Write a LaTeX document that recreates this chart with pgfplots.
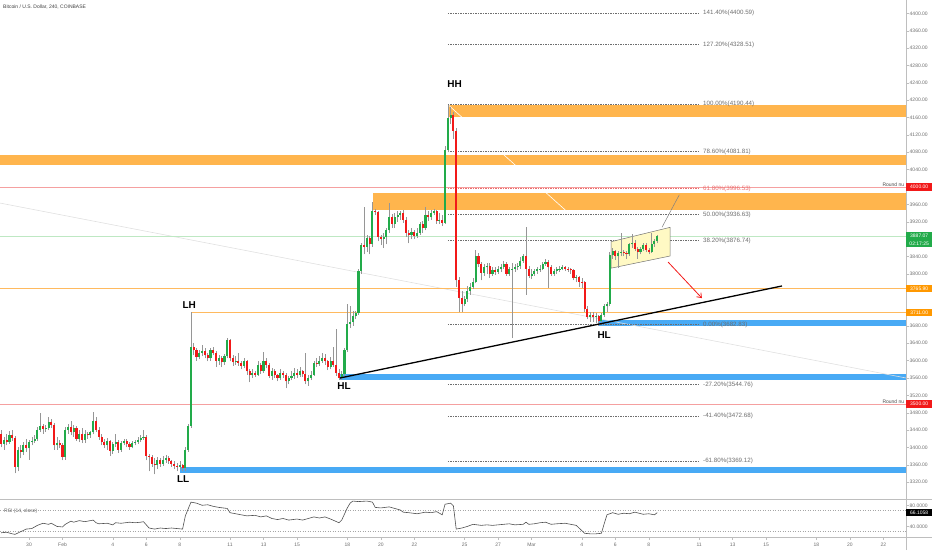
\documentclass[border=0pt]{standalone}
\usepackage{pgfplots}
\pgfplotsset{compat=1.18}
\usepackage{pgfplotstable}
\usepackage{fontspec}
\setmainfont{Liberation Sans}
\usetikzlibrary{arrows.meta}

\definecolor{tvgreen}{RGB}{34,171,74}
\definecolor{tvred}{RGB}{242,25,25}
\definecolor{wick}{RGB}{150,150,150}
\definecolor{zoneor}{RGB}{255,181,77}
\definecolor{lineor}{RGB}{255,186,95}
\definecolor{boxor}{RGB}{255,152,0}
\definecolor{zoneblue}{RGB}{72,170,245}
\definecolor{pinkline}{RGB}{245,160,160}
\definecolor{curgreen}{RGB}{190,232,195}
\definecolor{fibgray}{RGB}{110,110,110}
\definecolor{fibred}{RGB}{235,110,110}
\definecolor{ticktext}{RGB}{110,110,110}
\definecolor{axgray}{RGB}{190,190,190}
\definecolor{chanfill}{RGB}{255,249,196}
\definecolor{rsiline}{RGB}{80,80,80}

\newcommand\fs[1]{\fontsize{#1}{#1}\selectfont}

% 4h candles, bar 0 = 28 Jan 08:00
\pgfplotstableread{
i o h l c
0 3432 3440 3400 3408
1 3408 3425 3395 3418
2 3418 3430 3405 3412
3 3412 3438 3408 3428
4 3428 3440 3415 3422
5 3422 3426 3340 3355
6 3355 3400 3345 3395
7 3395 3405 3375 3390
8 3390 3412 3382 3405
9 3405 3420 3390 3398
10 3398 3418 3372 3412
11 3412 3425 3405 3415
12 3415 3428 3410 3420
13 3420 3448 3415 3440
14 3440 3480 3435 3450
15 3450 3455 3432 3442
16 3442 3452 3435 3445
17 3445 3470 3440 3458
18 3458 3465 3445 3452
19 3452 3456 3395 3405
20 3405 3425 3395 3410
21 3410 3418 3398 3406
22 3406 3410 3370 3378
23 3378 3448 3372 3440
24 3440 3455 3432 3448
25 3448 3462 3428 3435
26 3435 3452 3425 3445
27 3445 3450 3415 3420
28 3420 3440 3412 3430
29 3430 3445 3410 3418
30 3418 3440 3410 3432
31 3432 3436 3420 3428
32 3428 3438 3422 3435
33 3435 3482 3430 3462
34 3462 3470 3436 3440
35 3440 3446 3418 3425
36 3425 3430 3405 3412
37 3412 3420 3398 3405
38 3405 3422 3395 3415
39 3415 3418 3380 3392
40 3392 3412 3386 3408
41 3408 3430 3402 3412
42 3412 3418 3388 3395
43 3395 3415 3390 3410
44 3410 3420 3405 3415
45 3415 3420 3400 3408
46 3408 3412 3395 3402
47 3402 3415 3398 3410
48 3410 3418 3405 3412
49 3412 3425 3408 3418
50 3418 3428 3412 3422
51 3422 3440 3418 3425
52 3425 3428 3370 3380
53 3380 3385 3345 3378
54 3378 3382 3355 3362
55 3362 3375 3338 3360
56 3360 3378 3350 3370
57 3370 3376 3355 3362
58 3362 3380 3358 3372
59 3372 3382 3365 3375
60 3375 3380 3362 3368
61 3368 3372 3356 3362
62 3362 3368 3350 3358
63 3358 3365 3345 3355
64 3355 3368 3350 3360
65 3360 3362 3345 3352
66 3352 3400 3345 3395
67 3395 3455 3390 3450
68 3450 3712 3445 3632
69 3632 3640 3612 3625
70 3625 3630 3600 3608
71 3608 3625 3603 3618
72 3618 3636 3610 3622
73 3622 3630 3605 3612
74 3612 3618 3598 3605
75 3605 3630 3600 3625
76 3625 3632 3612 3618
77 3618 3622 3585 3600
78 3600 3612 3590 3605
79 3605 3610 3585 3596
80 3596 3615 3590 3610
81 3610 3652 3605 3648
82 3648 3650 3598 3605
83 3605 3612 3588 3596
84 3596 3610 3590 3600
85 3600 3618 3588 3595
86 3595 3600 3580 3588
87 3588 3606 3582 3600
88 3600 3602 3568 3575
89 3575 3580 3550 3566
90 3566 3580 3560 3572
91 3572 3576 3562 3568
92 3568 3600 3565 3590
93 3590 3594 3570 3575
94 3575 3620 3572 3598
95 3598 3605 3582 3590
96 3590 3595 3560 3565
97 3565 3582 3556 3575
98 3575 3580 3560 3566
99 3566 3570 3552 3560
100 3560 3580 3555 3572
101 3572 3576 3560 3568
102 3568 3572 3536 3552
103 3552 3565 3545 3560
104 3560 3575 3555 3565
105 3565 3582 3558 3572
106 3572 3580 3560 3568
107 3568 3585 3562 3575
108 3575 3578 3562 3570
109 3570 3618 3545 3552
110 3552 3568 3542 3560
111 3560 3575 3555 3568
112 3568 3600 3565 3595
113 3595 3605 3585 3592
114 3592 3610 3588 3600
115 3600 3618 3595 3605
116 3605 3615 3590 3598
117 3598 3602 3578 3585
118 3585 3608 3580 3600
119 3600 3632 3585 3590
120 3590 3672 3565 3572
121 3572 3580 3555 3560
122 3560 3575 3556 3570
123 3570 3630 3565 3625
124 3625 3730 3620 3685
125 3685 3725 3675 3690
126 3690 3715 3680 3702
127 3702 3715 3695 3710
128 3710 3812 3705 3806
129 3806 3872 3800 3866
130 3866 3955 3845 3862
131 3862 3890 3850 3882
132 3882 3888 3845 3868
133 3868 3965 3862 3945
134 3945 3950 3935 3942
135 3942 3945 3875 3885
136 3885 3890 3866 3880
137 3880 3895 3860 3885
138 3885 3905 3868 3900
139 3900 3962 3895 3932
140 3932 3938 3905 3915
141 3915 3940 3905 3930
142 3930 3945 3920 3935
143 3935 3945 3925 3940
144 3940 3948 3918 3925
145 3925 3930 3885 3895
146 3895 3900 3870 3890
147 3890 3905 3880 3896
148 3896 3900 3880 3888
149 3888 3905 3882 3895
150 3895 3920 3890 3915
151 3915 3922 3895 3905
152 3905 3954 3900 3935
153 3935 3945 3922 3930
154 3930 3948 3925 3940
155 3940 3950 3935 3945
156 3945 3948 3915 3922
157 3922 3940 3915 3925
158 3925 3935 3910 3918
159 3918 4095 3915 4085
160 4085 4190 4080 4158
161 4158 4185 4145 4165
162 4165 4172 4110 4130
163 4130 4135 3770 3785
164 3785 3792 3712 3745
165 3745 3760 3712 3730
166 3730 3750 3725 3742
167 3742 3772 3735 3760
168 3760 3778 3752 3770
169 3770 3790 3765 3782
170 3782 3855 3778 3842
171 3842 3848 3815 3822
172 3822 3828 3785 3802
173 3802 3822 3795 3815
174 3815 3825 3800 3818
175 3818 3824 3790 3800
176 3800 3815 3795 3808
177 3808 3815 3798 3805
178 3805 3818 3800 3810
179 3810 3822 3805 3815
180 3815 3830 3810 3822
181 3822 3828 3795 3800
182 3800 3815 3795 3810
183 3810 3825 3652 3812
184 3812 3822 3805 3815
185 3815 3825 3808 3818
186 3818 3838 3812 3830
187 3830 3845 3825 3840
188 3840 3908 3752 3812
189 3812 3818 3790 3795
190 3795 3810 3788 3800
191 3800 3812 3795 3806
192 3806 3815 3800 3810
193 3810 3820 3805 3812
194 3812 3828 3808 3822
195 3822 3835 3818 3828
196 3828 3832 3768 3815
197 3815 3820 3795 3800
198 3800 3812 3795 3806
199 3806 3815 3800 3810
200 3810 3818 3805 3812
201 3812 3820 3808 3815
202 3815 3818 3806 3812
203 3812 3816 3804 3810
204 3810 3814 3800 3808
205 3808 3812 3785 3790
206 3790 3798 3780 3792
207 3792 3796 3770 3782
208 3782 3790 3768 3780
209 3780 3784 3712 3718
210 3718 3725 3695 3700
211 3700 3712 3690 3705
212 3705 3712 3688 3700
213 3700 3710 3686 3702
214 3702 3706 3680 3692
215 3692 3710 3688 3705
216 3705 3730 3700 3725
217 3725 3735 3712 3730
218 3730 3850 3725 3843
219 3843 3860 3835 3852
220 3852 3856 3832 3840
221 3840 3852 3813 3848
222 3848 3894 3840 3850
223 3850 3855 3840 3848
224 3848 3852 3835 3845
225 3845 3872 3842 3868
226 3868 3892 3860 3872
227 3872 3878 3852 3858
228 3858 3862 3835 3850
229 3850 3862 3845 3858
230 3858 3872 3852 3866
231 3866 3870 3850 3856
232 3856 3860 3845 3850
233 3850 3894 3848 3868
234 3868 3880 3862 3875
235 3875 3890 3870 3887
}\candles

% RSI(14) read at bar positions
\pgfplotstableread{
i r
0 28
2 29
4 26
5 25
7 30
9 35
11 36
13 42
15 46
17 44
18 46
20 40
22 39
23 44
25 50
26 48
28 51
30 49
31 50
33 52
34 47
35 45
38 46
40 43
41 47
43 46
46 48
48 47
50 48
51 49
53 37
55 35
57 37
59 36
61 37
63 36
65 35
66 60
68 86
70 84
72 80
74 81
76 78
78 76
81 74
82 66
84 64
86 62
88 60
91 61
93 58
95 60
97 55
99 53
101 55
103 52
106 54
108 52
110 55
112 58
114 56
116 58
118 54
121 47
122 52
124 75
125 84
126 88
128 87
131 88
133 86
134 76
136 75
139 77
141 74
143 71
144 67
146 66
149 64
150 65
152 67
154 66
156 68
158 62
159 82
161 84
162 79
163 35
165 37
167 40
169 44
172 42
174 43
176 42
178 43
180 44
182 45
184 43
187 44
188 48
189 44
191 45
193 47
195 48
197 44
199 45
202 46
204 44
206 42
208 32
209 27
211 26
213 26
215 27
216 45
217 62
219 66
221 63
223 65
225 64
227 67
230 63
232 64
234 62
235 66
}\rsi

\newcommand\fib[3]{%
  \draw[#3, dash pattern=on 1.2pt off 1.3pt, line width=0.5pt] (axis cs:160,#1) -- (axis cs:249.6,#1);
  \node[anchor=west, font=\fs{6.2}, text=#3, inner sep=0pt] at (axis cs:251.4,#1) {#2};}

\begin{document}
\begin{tikzpicture}[x=1pt,y=1pt]
\useasboundingbox (0,0) rectangle (932,550);

\begin{axis}[
  at={(0pt,52pt)}, anchor=south west,
  scale only axis, width=906pt, height=498pt,
  xmin=-0.39, xmax=324.1, ymin=3283.5, ymax=4430.8,
  clip=false,
  axis x line*=bottom, axis y line*=right,
  axis line style={draw=none},
  xtick=\empty,
  ytick={3320,3360,3400,3440,3480,3520,3560,3600,3640,3680,3800,3840,3920,3960,4040,4080,4120,4160,4200,4240,4280,4320,4360,4400},
  tick align=outside, major tick length=2.5pt,
  ytick style={draw=axgray, line width=0.4pt},
  yticklabel style={font=\fs{5}, text=ticktext, inner sep=1pt},
  /pgf/number format/.cd, fixed, fixed zerofill, precision=2, 1000 sep={}, assume math mode=true
]
% zones
\fill[zoneor] (axis cs:-0.39,4051) rectangle (axis cs:324.1,4074);
\fill[zoneor] (axis cs:160,4161) rectangle (axis cs:324.1,4189);
\fill[zoneor] (axis cs:133.2,3947) rectangle (axis cs:324.1,3986);
\fill[zoneblue] (axis cs:213.8,3680) rectangle (axis cs:324.1,3694);
\fill[zoneblue] (axis cs:121.4,3555) rectangle (axis cs:324.1,3569);
\fill[zoneblue] (axis cs:64.1,3341) rectangle (axis cs:324.1,3355);
% faint lines
\draw[black!12, line width=0.6pt] (axis cs:-0.39,3963) -- (axis cs:324.1,3560);
\draw[white, line width=0.6pt] (axis cs:160,4190) -- (axis cs:214,3878);
% levels
\draw[pinkline, line width=0.7pt] (axis cs:-0.39,4000) -- (axis cs:324.1,4000);
\draw[pinkline, line width=0.7pt] (axis cs:-0.39,3500) -- (axis cs:324.1,3500);
\draw[curgreen, line width=0.8pt] (axis cs:-0.39,3887.07) -- (axis cs:324.1,3887.07);
\draw[lineor, line width=1.1pt] (axis cs:-0.39,3765.9) -- (axis cs:324.1,3765.9);
\draw[lineor, line width=1.1pt] (axis cs:68.3,3711) -- (axis cs:324.1,3711);
% fib
\fib{4400.59}{141.40\%(4400.59)}{fibgray}
\fib{4328.51}{127.20\%(4328.51)}{fibgray}
\fib{4190.44}{100.00\%(4190.44)}{fibgray}
\fib{4081.81}{78.60\%(4081.81)}{fibgray}
\fib{3996.53}{61.80\%(3996.53)}{fibred}
\fib{3936.63}{50.00\%(3936.63)}{fibgray}
\fib{3876.74}{38.20\%(3876.74)}{fibgray}
\fib{3682.83}{0.00\%(3682.83)}{fibgray}
\fib{3544.76}{-27.20\%(3544.76)}{fibgray}
\fib{3472.68}{-41.40\%(3472.68)}{fibgray}
\fib{3369.12}{-61.80\%(3369.12)}{fibgray}
% channel
\filldraw[fill=chanfill, draw=black!55, line width=0.5pt]
  (axis cs:218.5,3874) -- (axis cs:239.6,3907) -- (axis cs:239.6,3841) -- (axis cs:218.5,3813) -- cycle;

% candles: wicks then bodies
\addplot[draw=none, no markers, forget plot,
  error bars/.cd, y dir=plus, y explicit, error mark=none,
  error bar style={draw=wick, line width=0.55pt}]
  table[x=i, y=l, y error plus expr={\thisrow{h}-\thisrow{l}}] {\candles};
\addplot[draw=none, no markers, forget plot,
  error bars/.cd, y dir=plus, y explicit, error mark=none,
  error bar style={draw=tvgreen, line width=2.1pt}]
  table[x=i, y=o, y error plus expr={max(\thisrow{c}-\thisrow{o},0)}] {\candles};
\addplot[draw=none, no markers, forget plot,
  error bars/.cd, y dir=plus, y explicit, error mark=none,
  error bar style={draw=tvred, line width=2.1pt}]
  table[x=i, y=c, y error plus expr={max(\thisrow{o}-\thisrow{c},0)}] {\candles};

% trend lines and arrows
\draw[black, line width=1.3pt] (axis cs:121.4,3560) -- (axis cs:279.7,3772);
\draw[black!50, line width=0.5pt] (axis cs:236.7,3907) -- (axis cs:242.9,3982);
\draw[tvred, line width=0.8pt, -{Straight Barb[length=4pt,width=6pt]}] (axis cs:238.9,3827) -- (axis cs:251,3744);

% swing labels
\node[font=\fs{10}\bfseries] at (axis cs:162.4,4238) {HH};
\node[font=\fs{10}\bfseries] at (axis cs:67.4,3728) {LH};
\node[font=\fs{10}\bfseries] at (axis cs:122.8,3541) {HL};
\node[font=\fs{10}\bfseries] at (axis cs:216,3659) {HL};
\node[font=\fs{10}\bfseries] at (axis cs:65.2,3328) {LL};

\coordinate (b4000) at (axis cs:324.1,4000);
\coordinate (b3887) at (axis cs:324.1,3887.07);
\coordinate (b3766) at (axis cs:324.1,3765.9);
\coordinate (b3711) at (axis cs:324.1,3711);
\coordinate (b3500) at (axis cs:324.1,3500);
\end{axis}

\begin{axis}[
  at={(0pt,13pt)}, anchor=south west,
  scale only axis, width=906pt, height=37pt,
  xmin=-0.39, xmax=324.1, ymin=20, ymax=90,
  clip=false,
  axis x line*=bottom, axis y line*=right,
  axis line style={draw=none},
  xtick={10,22,40,52,64,82,94,106,124,136,148,166,178,190,208,220,232,250,262,274,292,304,316},
  xticklabels={30,Feb,4,6,8,11,13,15,18,20,22,25,27,Mar,4,6,8,11,13,15,18,20,22},
  ytick={40,80}, yticklabels={40.0000,80.0000},
  tick align=outside, major tick length=2.5pt,
  tick style={draw=axgray, line width=0.4pt},
  xticklabel style={font=\fs{5}, text=ticktext, inner sep=1pt, yshift=-2pt},
  yticklabel style={font=\fs{5}, text=ticktext, inner sep=1pt},
]
\draw[black!35, dash pattern=on 1pt off 1.5pt, line width=0.5pt] (axis cs:-0.39,70) -- (axis cs:324.1,70);
\draw[black!35, dash pattern=on 1pt off 1.5pt, line width=0.5pt] (axis cs:-0.39,30) -- (axis cs:324.1,30);
\addplot[rsiline, line width=0.6pt, mark=none] table[x=i, y=r] {\rsi};
\coordinate (brsi) at (axis cs:324.1,66.1058);
\end{axis}

% frame lines
\draw[axgray, line width=0.6pt] (906,0) -- (906,550);
\draw[axgray, line width=1pt] (0,51) -- (932,51);
\draw[axgray, line width=0.6pt] (0,13) -- (932,13);

% price labels
\tikzset{pbox/.style={anchor=west, font=\fs{5}, text=white, inner sep=0pt, minimum width=26pt, minimum height=7.5pt}}
\node[pbox, fill=tvred] at (b4000) {4000.00};
\node[pbox, fill=tvgreen] at (b3887) {3887.07};
\node[pbox, fill=tvgreen] at ([yshift=-7.5pt]b3887) {02:17:25};
\node[pbox, fill=boxor] at (b3766) {3765.90};
\node[pbox, fill=boxor] at (b3711) {3711.00};
\node[pbox, fill=tvred] at (b3500) {3500.00};
\node[pbox, fill=black] at (brsi) {66.1058};
\node[anchor=south east, font=\fs{5}, text=black!70, inner sep=0.6pt] at ([xshift=-1pt]b4000) {Round nu};
\node[anchor=south east, font=\fs{5}, text=black!70, inner sep=0.6pt] at ([xshift=-1pt]b3500) {Round nu};

\node[anchor=west, font=\fs{5}, text=black!75, inner sep=0pt] at (3,543) {Bitcoin / U.S. Dollar, 240, COINBASE};
\node[anchor=west, font=\fs{5}, text=black!60, inner sep=0pt] at (4,39) {RSI (14, close)};
\end{tikzpicture}
\end{document}
